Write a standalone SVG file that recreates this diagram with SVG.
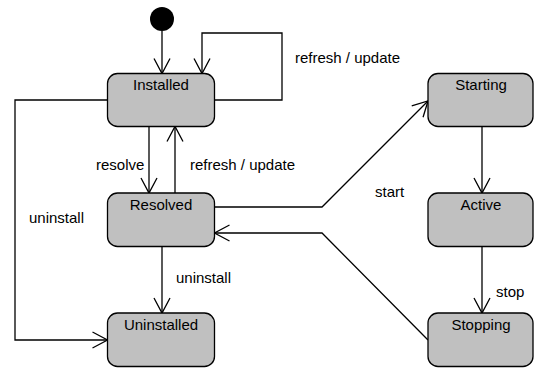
<svg xmlns="http://www.w3.org/2000/svg" width="534" height="369" viewBox="0 0 534 369">
<style>
.st{fill:#c0c0c0;stroke:#000;stroke-width:1.3}
.nt{font-family:"Liberation Sans",Arial,sans-serif;font-size:15px;fill:#000;text-anchor:middle}
.lb{font-family:"Liberation Sans",Arial,sans-serif;font-size:15px;fill:#000}
.cn{fill:none;stroke:#000;stroke-width:1.3;marker-end:url(#arr)}
</style>
<defs>
<marker id="arr" markerUnits="userSpaceOnUse" viewBox="-16 -9 17 18" refX="0" refY="0" markerWidth="17" markerHeight="18" orient="auto" overflow="visible">
<path d="M-15,-8 L0,0 L-15,8" fill="none" stroke="#000" stroke-width="1.3"/>
</marker>
</defs>
<g id="connectors">
<path class="cn" d="M162,31 L162,73.5"/>
<path class="cn" d="M214.5,100 L282,100 L282,33 L202,33 L202,73.5"/>
<path class="cn" d="M149,126.5 L149,193"/>
<path class="cn" d="M175,193 L175,126.5"/>
<path class="cn" d="M107.5,100 L15,100 L15,340 L107.5,340"/>
<path class="cn" d="M162,246.5 L162,313"/>
<path class="cn" d="M214.5,207 L322,207 L428,101"/>
<path class="cn" d="M428,340 L322,233 L214.5,233"/>
<path class="cn" d="M482,126.5 L482,193"/>
<path class="cn" d="M482,246.5 L482,313"/>
</g>
<g id="labels">
<text class="lb" x="295" y="63">refresh / update</text>
<text class="lb" x="96" y="170">resolve</text>
<text class="lb" x="190" y="170">refresh / update</text>
<text class="lb" x="29" y="223">uninstall</text>
<text class="lb" x="176" y="283">uninstall</text>
<text class="lb" x="375" y="197">start</text>
<text class="lb" x="496" y="297">stop</text>
</g>
<g id="initial"><circle cx="162" cy="19" r="12" fill="#000"/></g>
<g id="installed"><rect class="st" x="107.5" y="73.5" width="107" height="53" rx="10"/><text class="nt" x="161" y="90">Installed</text></g>
<g id="resolved"><rect class="st" x="107.5" y="193" width="107" height="53.5" rx="10"/><text class="nt" x="161" y="210">Resolved</text></g>
<g id="uninstalled"><rect class="st" x="107.5" y="313" width="107" height="53.5" rx="10"/><text class="nt" x="161" y="330">Uninstalled</text></g>
<g id="starting"><rect class="st" x="428" y="73.5" width="105" height="53" rx="10"/><text class="nt" x="481" y="90">Starting</text></g>
<g id="active"><rect class="st" x="428" y="193" width="105" height="53.5" rx="10"/><text class="nt" x="481" y="210">Active</text></g>
<g id="stopping"><rect class="st" x="428" y="313" width="105" height="53.5" rx="10"/><text class="nt" x="481" y="330">Stopping</text></g>
</svg>
